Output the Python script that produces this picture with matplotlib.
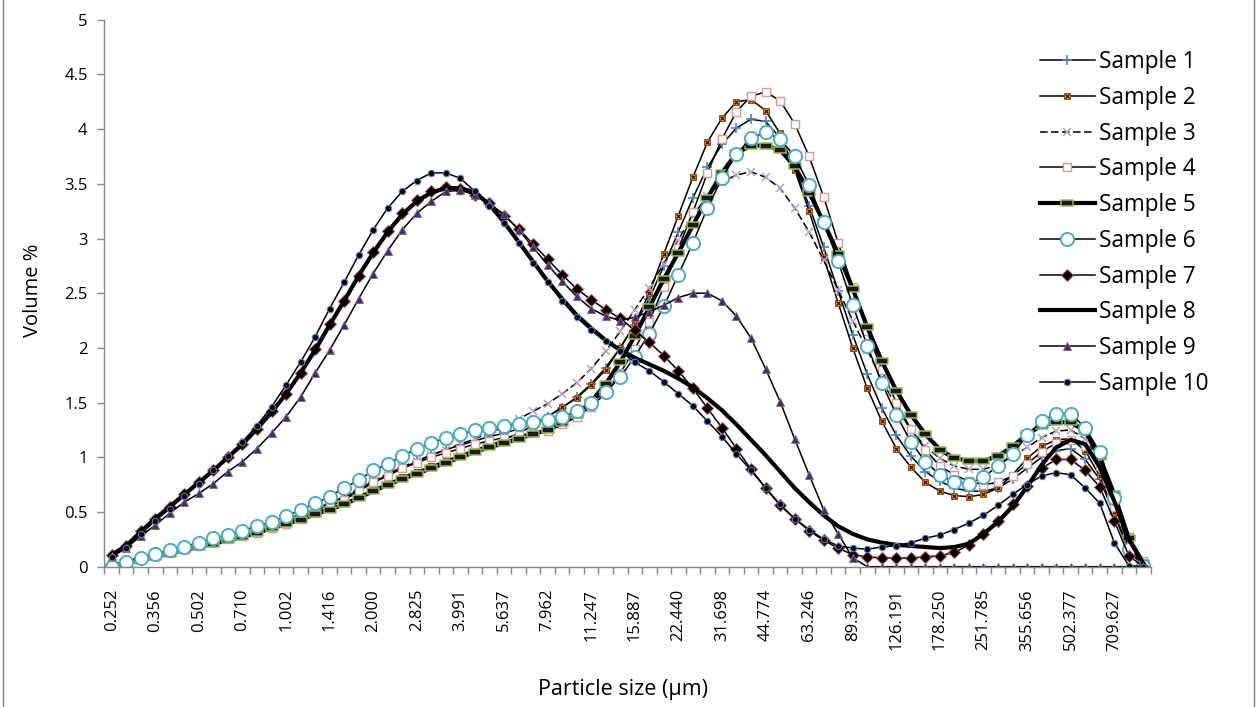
import numpy as np
import matplotlib.pyplot as plt
from matplotlib.path import Path
from matplotlib.lines import Line2D
from matplotlib.legend_handler import HandlerTuple

plt.rcParams['font.family'] = ['Open Sans', 'DejaVu Sans']

# particle size classes (um), one per measured bin
sizes = ["0.252", "0.283", "0.317", "0.356", "0.399", "0.448", "0.502", "0.564", "0.632",
         "0.710", "0.796", "0.893", "1.002", "1.125", "1.262", "1.416", "1.589", "1.783",
         "2.000", "2.244", "2.518", "2.825", "3.170", "3.557", "3.991", "4.477", "5.024",
         "5.637", "6.325", "7.096", "7.962", "8.934", "10.024", "11.247", "12.619", "14.159",
         "15.887", "17.825", "20.000", "22.440", "25.179", "28.251", "31.698", "35.566", "39.905",
         "44.774", "50.238", "56.368", "63.246", "70.963", "79.621", "89.337", "100.237", "112.468",
         "126.191", "141.589", "158.866", "178.250", "200.000", "224.404", "251.785", "282.508", "316.979",
         "355.656", "399.052", "447.744", "502.377", "563.677", "632.456", "709.627", "796.214", "893.367"]

sample_1 = [0.02, 0.05, 0.08, 0.11, 0.14, 0.17, 0.20, 0.23, 0.26, 0.29, 0.33, 0.37,
            0.41, 0.46, 0.51, 0.57, 0.63, 0.70, 0.77, 0.84, 0.90, 0.96, 1.02, 1.07,
            1.11, 1.15, 1.19, 1.22, 1.26, 1.31, 1.37, 1.45, 1.55, 1.67, 1.82, 2.00,
            2.21, 2.45, 2.75, 3.06, 3.37, 3.65, 3.86, 4.01, 4.09, 4.07, 3.92, 3.64,
            3.30, 2.92, 2.52, 2.12, 1.76, 1.45, 1.20, 1.01, 0.87, 0.78, 0.72, 0.69,
            0.69, 0.72, 0.80, 0.90, 1.00, 1.06, 1.08, 0.98, 0.80, 0.48, 0.14, 0.01]
sample_2 = [0.01, 0.03, 0.06, 0.09, 0.12, 0.15, 0.18, 0.21, 0.24, 0.27, 0.31, 0.35,
            0.39, 0.44, 0.49, 0.53, 0.58, 0.64, 0.70, 0.76, 0.82, 0.87, 0.92, 0.97,
            1.02, 1.07, 1.11, 1.16, 1.22, 1.29, 1.37, 1.46, 1.54, 1.66, 1.80, 2.00,
            2.22, 2.50, 2.86, 3.21, 3.56, 3.88, 4.10, 4.25, 4.27, 4.17, 3.96, 3.63,
            3.25, 2.83, 2.41, 2.00, 1.63, 1.33, 1.08, 0.91, 0.77, 0.69, 0.65, 0.64,
            0.66, 0.72, 0.84, 0.99, 1.10, 1.16, 1.17, 1.06, 0.83, 0.50, 0.15, 0.01]
sample_3 = [0.02, 0.05, 0.09, 0.12, 0.15, 0.18, 0.21, 0.24, 0.27, 0.31, 0.35, 0.39,
            0.43, 0.48, 0.53, 0.58, 0.64, 0.71, 0.78, 0.85, 0.91, 0.97, 1.02, 1.07,
            1.12, 1.17, 1.22, 1.28, 1.35, 1.42, 1.49, 1.58, 1.68, 1.81, 1.97, 2.15,
            2.35, 2.55, 2.77, 2.99, 3.21, 3.39, 3.52, 3.58, 3.61, 3.56, 3.46, 3.28,
            3.06, 2.80, 2.53, 2.25, 1.98, 1.71, 1.46, 1.25, 1.10, 0.99, 0.92, 0.89,
            0.89, 0.93, 1.01, 1.09, 1.18, 1.24, 1.25, 1.17, 0.97, 0.58, 0.18, 0.02]
sample_4 = [0.01, 0.04, 0.07, 0.10, 0.13, 0.16, 0.19, 0.22, 0.25, 0.28, 0.31, 0.35,
            0.39, 0.44, 0.49, 0.55, 0.61, 0.69, 0.77, 0.83, 0.90, 0.95, 1.00, 1.04,
            1.08, 1.12, 1.15, 1.18, 1.20, 1.22, 1.24, 1.30, 1.37, 1.46, 1.59, 1.77,
            1.99, 2.24, 2.56, 2.91, 3.24, 3.60, 3.91, 4.16, 4.30, 4.34, 4.26, 4.05,
            3.75, 3.38, 2.96, 2.56, 2.15, 1.80, 1.50, 1.26, 1.07, 0.92, 0.84, 0.78,
            0.75, 0.77, 0.83, 0.94, 1.05, 1.13, 1.16, 1.10, 0.92, 0.55, 0.27, 0.05]
sample_5 = [0.00, 0.03, 0.06, 0.09, 0.12, 0.15, 0.18, 0.21, 0.24, 0.27, 0.31, 0.35,
            0.39, 0.43, 0.48, 0.52, 0.57, 0.63, 0.69, 0.75, 0.80, 0.85, 0.90, 0.95,
            1.00, 1.05, 1.09, 1.13, 1.17, 1.21, 1.25, 1.31, 1.39, 1.51, 1.67, 1.87,
            2.11, 2.37, 2.63, 2.87, 3.12, 3.37, 3.60, 3.78, 3.85, 3.85, 3.81, 3.66,
            3.42, 3.15, 2.86, 2.54, 2.19, 1.88, 1.61, 1.39, 1.21, 1.07, 0.99, 0.97,
            0.97, 1.01, 1.10, 1.21, 1.29, 1.32, 1.32, 1.24, 1.00, 0.66, 0.26, 0.03]
sample_6 = [0.00, 0.04, 0.08, 0.12, 0.15, 0.18, 0.22, 0.26, 0.29, 0.33, 0.37, 0.41,
            0.46, 0.52, 0.58, 0.64, 0.72, 0.79, 0.88, 0.94, 1.01, 1.08, 1.13, 1.18,
            1.21, 1.25, 1.27, 1.29, 1.30, 1.32, 1.34, 1.37, 1.42, 1.50, 1.60, 1.73,
            1.92, 2.13, 2.38, 2.67, 2.96, 3.28, 3.55, 3.77, 3.92, 3.97, 3.91, 3.75,
            3.49, 3.15, 2.79, 2.39, 2.02, 1.68, 1.39, 1.14, 0.96, 0.84, 0.77, 0.76,
            0.82, 0.92, 1.03, 1.20, 1.33, 1.40, 1.40, 1.27, 1.05, 0.63, 0.16, 0.01]
sample_7 = [0.11, 0.19, 0.33, 0.44, 0.55, 0.66, 0.77, 0.88, 1.00, 1.12, 1.26, 1.42,
            1.58, 1.77, 1.99, 2.22, 2.43, 2.66, 2.88, 3.07, 3.23, 3.35, 3.43, 3.47,
            3.45, 3.40, 3.32, 3.21, 3.09, 2.95, 2.81, 2.67, 2.54, 2.44, 2.35, 2.27,
            2.16, 2.05, 1.93, 1.79, 1.63, 1.45, 1.27, 1.08, 0.89, 0.72, 0.56, 0.44,
            0.33, 0.24, 0.17, 0.11, 0.09, 0.08, 0.08, 0.08, 0.09, 0.10, 0.13, 0.20,
            0.30, 0.42, 0.57, 0.74, 0.90, 0.98, 0.98, 0.88, 0.73, 0.42, 0.10, 0.00]
sample_8 = [0.11, 0.19, 0.32, 0.44, 0.55, 0.66, 0.77, 0.88, 1.00, 1.12, 1.26, 1.41,
            1.58, 1.77, 1.98, 2.21, 2.43, 2.66, 2.87, 3.06, 3.22, 3.34, 3.42, 3.46,
            3.46, 3.42, 3.31, 3.15, 2.97, 2.79, 2.61, 2.45, 2.30, 2.18, 2.07, 1.98,
            1.91, 1.85, 1.79, 1.72, 1.64, 1.54, 1.43, 1.30, 1.16, 1.02, 0.87, 0.72,
            0.59, 0.47, 0.37, 0.30, 0.25, 0.22, 0.20, 0.19, 0.18, 0.17, 0.18, 0.21,
            0.30, 0.41, 0.55, 0.73, 0.93, 1.09, 1.16, 1.12, 0.91, 0.60, 0.25, 0.03]
sample_9 = [0.10, 0.17, 0.28, 0.38, 0.49, 0.59, 0.67, 0.76, 0.87, 0.96, 1.08, 1.22,
            1.37, 1.55, 1.77, 1.98, 2.21, 2.45, 2.68, 2.89, 3.08, 3.23, 3.34, 3.43,
            3.44, 3.40, 3.32, 3.22, 3.08, 2.92, 2.76, 2.61, 2.47, 2.36, 2.29, 2.25,
            2.28, 2.33, 2.39, 2.46, 2.50, 2.50, 2.43, 2.29, 2.09, 1.81, 1.51, 1.17,
            0.84, 0.52, 0.30, 0.08, 0.00, 0.00, 0.00, 0.00, 0.00, 0.00, 0.00, 0.00,
            0.00, 0.00, 0.00, 0.00, 0.00, 0.00, 0.00, 0.00, 0.00, 0.00, 0.00, 0.00]
sample_10 = [0.09, 0.17, 0.30, 0.42, 0.53, 0.65, 0.76, 0.88, 1.01, 1.14, 1.29, 1.46,
             1.66, 1.87, 2.10, 2.36, 2.60, 2.85, 3.08, 3.28, 3.43, 3.53, 3.60, 3.60,
             3.55, 3.43, 3.30, 3.14, 2.96, 2.78, 2.60, 2.43, 2.28, 2.16, 2.06, 1.97,
             1.87, 1.79, 1.69, 1.58, 1.47, 1.33, 1.19, 1.03, 0.88, 0.72, 0.57, 0.44,
             0.34, 0.25, 0.19, 0.17, 0.16, 0.18, 0.19, 0.22, 0.26, 0.29, 0.34, 0.40,
             0.47, 0.56, 0.66, 0.75, 0.83, 0.86, 0.84, 0.72, 0.58, 0.22, 0.01, 0.00]

W, H = 1256, 707
fig = plt.figure(figsize=(W / 100, H / 100), dpi=100)
ax = fig.add_axes([104.4 / W, 1 - 566.7 / H, 1046.2 / W, 547.0 / H])

x = np.arange(len(sizes))
thin, thick = 1.1, 3.0

# flat bar used as the Sample 5 marker
bar = Path([(-1, -0.42), (1, -0.42), (1, 0.42), (-1, 0.42), (-1, -0.42)],
           [Path.MOVETO, Path.LINETO, Path.LINETO, Path.LINETO, Path.CLOSEPOLY])

h1, = ax.plot(x, sample_1, color='black', lw=thin, marker='+', ms=6.5,
              mec='#4f81bd', mew=1.2)
h2a, = ax.plot(x, sample_2, color='black', lw=thin, marker='s', ms=4.8,
               mfc='#f79646', mec='#984807', mew=0.7)
h2b, = ax.plot(x, sample_2, ls='none', marker='x', ms=3.2, mec='#2b1a05', mew=0.9)
h3, = ax.plot(x, sample_3, color='black', lw=thin, ls=(0, (5, 2.2)), marker='x',
              ms=6, mec='#b3a2c7', mew=1.1)
h4, = ax.plot(x, sample_4, color='black', lw=thin, marker='s', ms=6.3,
              mfc='white', mec='#d99694', mew=1.0)
h5, = ax.plot(x, sample_5, color='black', lw=thick, marker=bar, ms=9,
              mfc='#1a1a1a', mec='#9bbb59', mew=1.1)
h6, = ax.plot(x, sample_6, color='black', lw=thin, marker='o', ms=9.5,
              mfc='white', mec='#4bacc6', mew=1.4)
h7, = ax.plot(x, sample_7, color='black', lw=thin, marker='D', ms=6,
              mfc='black', mec='#c0504d', mew=0.7)
h8, = ax.plot(x, sample_8, color='black', lw=thick)
h9, = ax.plot(x, sample_9, color='black', lw=thin, marker='^', ms=5.5,
              mfc='#3f3151', mec='#8064a2', mew=0.7)
h10, = ax.plot(x, sample_10, color='black', lw=thin, marker='o', ms=4.6,
               mfc='black', mec='#4f81bd', mew=0.8)

ax.set_xlim(-0.5, len(sizes) - 0.5)
ax.set_ylim(0, 5)

axis_grey = '#868686'
for side in ('top', 'right'):
    ax.spines[side].set_visible(False)
for side in ('left', 'bottom'):
    ax.spines[side].set_color(axis_grey)
    ax.spines[side].set_linewidth(1.0)

yt = np.arange(0, 5.01, 0.5)
ax.set_yticks(yt)
ax.set_yticklabels(['%g' % v for v in yt])
ax.tick_params(axis='y', direction='out', length=5, width=1.0, color=axis_grey,
               labelsize=12, pad=7)

# labels on every third class, tick marks between all classes
ax.set_xticks(x[::3])
ax.set_xticklabels(sizes[::3], rotation=90, va='top', ha='center')
ax.set_xticks(np.arange(-0.5, len(sizes), 1), minor=True)
ax.tick_params(axis='x', which='major', length=0, labelsize=12, pad=16)
ax.tick_params(axis='x', which='minor', direction='out', length=5, width=1.0,
               color=axis_grey)

ax.set_xlabel('Particle size (\u00b5m)', fontsize=15.5)
ax.xaxis.set_label_coords(0.496, -0.205)
ax.set_ylabel('Volume %', fontsize=14.5)
ax.yaxis.set_label_coords(-0.059, 0.506)

handles = [h1, (h2a, h2b), h3, h4, h5, h6, h7, h8, h9, h10]
labels = ['Sample %d' % i for i in range(1, 11)]
fig.legend(handles, labels, loc='upper left', bbox_to_anchor=(1040 / W, 1 - 50 / H),
           frameon=False, fontsize=16.3, handlelength=2.42, handletextpad=0.2,
           labelspacing=0.52, borderaxespad=0, borderpad=0,
           handler_map={tuple: HandlerTuple(ndivide=1)})

# chart-area border on both sides
for xe in (2.5 / W, 1 - 2.5 / W):
    fig.add_artist(Line2D([xe, xe], [0, 1], color='#7f7f7f', lw=1.0))

fig.savefig('out.png', dpi=100)
